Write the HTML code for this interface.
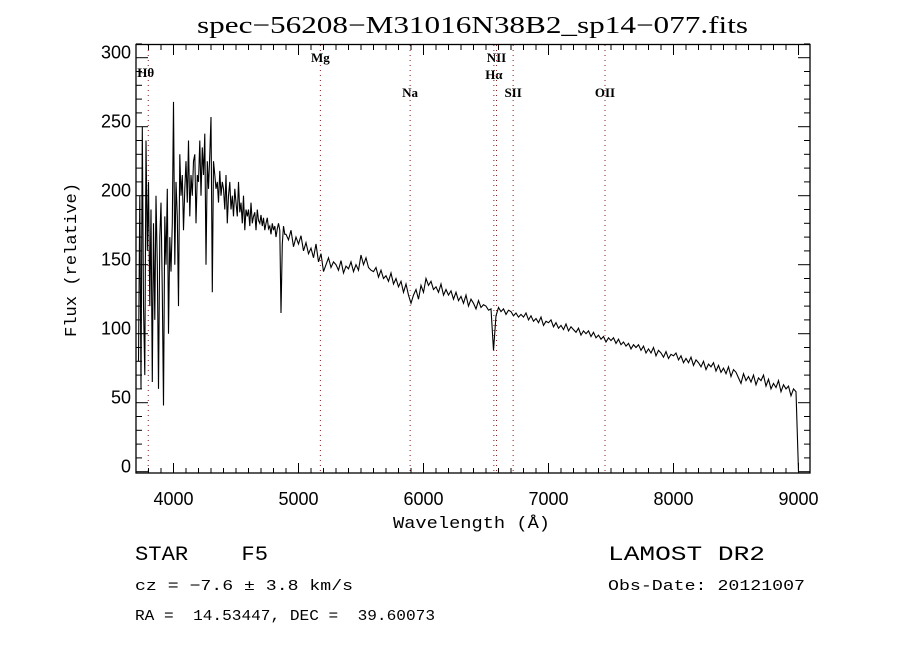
<!DOCTYPE html>
<html><head><meta charset="utf-8"><style>
body{margin:0;background:#fff;}
svg text{font-family:"Liberation Sans",sans-serif;white-space:pre;}
</style></head><body>
<svg id="chart" width="900" height="650" viewBox="0 0 900 650" xmlns="http://www.w3.org/2000/svg" xml:space="preserve">
<rect width="900" height="650" fill="#fff"/>
<text x="197" y="33" textLength="551" lengthAdjust="spacingAndGlyphs" font-size="24" style="font-family:'Liberation Serif',serif">spec−56208−M31016N38B2_sp14−077.fits</text>
<text transform="translate(76,337) rotate(-90)" textLength="154" lengthAdjust="spacingAndGlyphs" font-size="17" style="font-family:'Liberation Mono',monospace">Flux (relative)</text>
<text x="393" y="528" textLength="157" lengthAdjust="spacingAndGlyphs" font-size="17" style="font-family:'Liberation Mono',monospace">Wavelength (Å)</text>
<g id="lines"></g><g id="ticks"></g>
<path id="spec" fill="none" stroke="#000" stroke-width="1.1"/>
<rect x="136" y="44.5" width="674" height="428.5" fill="none" stroke="#000" stroke-width="1.3"/>
<text x="135" y="560" textLength="133" lengthAdjust="spacingAndGlyphs" font-size="20" style="font-family:'Liberation Mono',monospace">STAR    F5</text>
<text x="135" y="590" textLength="218" lengthAdjust="spacingAndGlyphs" font-size="15" style="font-family:'Liberation Mono',monospace">cz = −7.6 ± 3.8 km/s</text>
<text x="135" y="620" textLength="300" lengthAdjust="spacingAndGlyphs" font-size="15" style="font-family:'Liberation Mono',monospace">RA =  14.53447, DEC =  39.60073</text>
<text x="608" y="560" textLength="157" lengthAdjust="spacingAndGlyphs" font-size="20" style="font-family:'Liberation Mono',monospace">LAMOST DR2</text>
<text x="608" y="590" textLength="197" lengthAdjust="spacingAndGlyphs" font-size="15" style="font-family:'Liberation Mono',monospace">Obs-Date: 20121007</text>
</svg>
<script>
const blueStart=3720, blueStep=10;
const blueFlux=[80,200,60,250,120,70,240,160,
210,120,190,65,180,110,200,150,60,170,
195,130,48,185,150,205,100,170,145,180,
268,150,210,185,120,230,200,215,175,205,
225,195,240,185,215,200,225,230,180,215,
210,240,200,235,215,245,150,225,205,230,
257,130,225,215,205,210,195,218,200,210,
205,190,215,180,200,210,190,200,185,205,
195,185,210,188,195,180,200,175,190,185,
190,178,195,180,185,188,175,190,182,180,
186,178,184,175,180,184,176,178,172,180,
175,178,170,176,180,175,115,165,178,172];
const redStart=4900, redStep=20;
const redFlux=[172,168,175,163,170,165,171,160,166,158,162,155,165,152,158,145,150,155,148,152,
150,146,153,144,149,147,152,145,150,146,157,150,155,148,146,145,148,141,146,140,
142,138,144,136,140,134,138,130,136,128,122,128,132,125,135,130,140,135,138,132,
134,130,136,128,132,128,131,125,130,124,127,122,128,120,125,122,118,124,119,121,
120,117,118,88,113,119,116,118,114,117,116,113,115,112,114,112,115,110,113,109,
111,108,112,106,109,108,110,105,108,104,106,103,107,102,105,103,101,104,99,102,
100,102,98,101,97,99,96,98,94,97,95,97,93,96,92,94,91,93,89,92,
90,92,88,91,86,89,86,90,84,88,86,83,87,82,85,84,86,81,84,79,
82,79,83,77,81,79,76,80,74,78,76,79,73,77,72,75,71,76,69,74,
72,68,64,71,66,69,65,70,63,68,66,70,62,67,60,64,61,66,58,63,
60,62,55,60,58,0];
const lineNames=["Hθ","Mg","Na","Hα","NII","SII","OII"];
const lineWaves=[3798,5175,5893,6563,6584,6717,7452];
const lineLabelY=[77,62,97,79,62,97,97];
const xTicks=[4000,5000,6000,7000,8000,9000];
const yTicks=[0,50,100,150,200,250,300];

const X=w=>173.5+(w-4000)*0.125;
const Y=v=>471.7-1.38*v;
const NS="http://www.w3.org/2000/svg";
function mk(tag,parent){const e=document.createElementNS(NS,tag);document.getElementById(parent).appendChild(e);return e;}

let d="";
blueFlux.forEach((v,i)=>{d+=(i?"L":"M")+X(blueStart+i*blueStep).toFixed(1)+","+Y(v).toFixed(1);});
redFlux.forEach((v,i)=>{d+="L"+X(redStart+i*redStep).toFixed(1)+","+Y(v).toFixed(1);});
document.getElementById("spec").setAttribute("d",d);

lineWaves.forEach((w,i)=>{
  const l=mk("line","lines");
  
  
  l.setAttribute("x1",X(w));l.setAttribute("x2",X(w));l.setAttribute("y1",45);l.setAttribute("y2",473);
  l.setAttribute("stroke","#8b1a1a");l.setAttribute("stroke-dasharray","1 4");
  const t=mk("text","lines");
  
  
  t.setAttribute("x",X(w)+(i==0?-11:0));t.setAttribute("y",lineLabelY[i]);t.setAttribute("font-size","13");
  t.setAttribute("text-anchor",i==0?"start":"middle");t.setAttribute("style","font-family:'Liberation Serif',serif;font-weight:bold");
  t.textContent=lineNames[i];
});
function tick(x1,y1,x2,y2){const l=mk("line","ticks");l.setAttribute("x1",x1);l.setAttribute("y1",y1);l.setAttribute("x2",x2);l.setAttribute("y2",y2);l.setAttribute("stroke","#000");

}
for(let w=3800;w<=9000;w+=100){const x=X(w),L=(w%1000==0)?10:5;tick(x,473,x,473-L);tick(x,45,x,45+L);}
for(let v=0;v<=310;v+=10){const y=Y(v),L=(v%50==0)?12:6;tick(136,y,136+L,y);tick(810,y,810-L,y);}
xTicks.forEach(w=>{const t=mk("text","ticks");


t.setAttribute("x",X(w));t.setAttribute("y",505);t.setAttribute("text-anchor","middle");t.setAttribute("font-size","18");t.textContent=w;});
yTicks.forEach(v=>{const t=mk("text","ticks");


t.setAttribute("x",131);t.setAttribute("y",Y(v)+1);t.setAttribute("text-anchor","end");t.setAttribute("font-size","18");t.textContent=v;});
</script>
</body></html>
